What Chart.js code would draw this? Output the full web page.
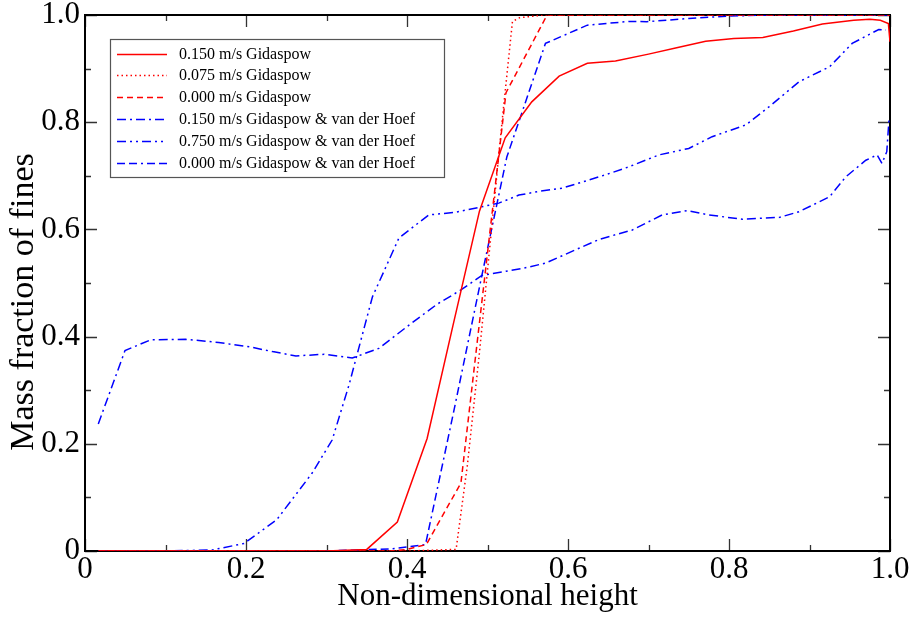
<!DOCTYPE html>
<html>
<head>
<meta charset="utf-8">
<title>Mass fraction of fines</title>
<script src="https://cdn.jsdelivr.net/npm/chart.js@4.4.1/dist/chart.umd.min.js"></script>
<style>
  html, body { margin: 0; padding: 0; background: #fff; }
  #wrap { width: 913px; height: 617px; }
</style>
</head>
<body>
<div id="wrap"><canvas id="fines"></canvas></div>
<script>
// Gidaspow drag, three superficial velocities
const g150X = [0.017, 0.05, 0.10, 0.15, 0.20, 0.25, 0.30, 0.35, 0.388, 0.425, 0.457, 0.49, 0.522, 0.555, 0.589, 0.624, 0.659, 0.70, 0.735, 0.771, 0.806, 0.842, 0.88, 0.916, 0.955, 0.975, 0.988, 0.998, 1.0];
const g150Y = [0, 0, 0, 0, 0, 0, 0, 0.003, 0.054, 0.21, 0.42, 0.634, 0.771, 0.838, 0.886, 0.91, 0.914, 0.927, 0.939, 0.951, 0.956, 0.958, 0.97, 0.983, 0.99, 0.992, 0.99, 0.984, 0.95];

const g075X = [0.017, 0.10, 0.20, 0.30, 0.40, 0.461, 0.475, 0.49, 0.505, 0.518, 0.531, 0.54, 0.57, 0.60, 0.80, 1.0];
const g075Y = [0, 0, 0, 0, 0, 0.003, 0.16, 0.37, 0.60, 0.80, 0.988, 0.995, 1, 1, 1, 1];

const g000X = [0.017, 0.10, 0.20, 0.30, 0.38, 0.40, 0.424, 0.467, 0.523, 0.574, 0.60, 0.80, 1.0];
const g000Y = [0, 0, 0, 0, 0, 0.003, 0.012, 0.127, 0.855, 1, 1, 1, 1];

// Gidaspow & van der Hoef drag
const h150X = [0.0165, 0.0497, 0.0816, 0.125, 0.166, 0.204, 0.233, 0.262, 0.297, 0.332, 0.365, 0.403, 0.437, 0.467, 0.493, 0.523, 0.543, 0.572, 0.593, 0.617, 0.639, 0.68, 0.717, 0.748, 0.775, 0.8165, 0.863, 0.887, 0.925, 0.945, 0.97, 0.984, 0.99, 0.996, 0.999];
const h150Y = [0.237, 0.374, 0.394, 0.395, 0.389, 0.381, 0.372, 0.364, 0.367, 0.36, 0.378, 0.422, 0.46, 0.487, 0.514, 0.522, 0.527, 0.537, 0.551, 0.567, 0.5815, 0.599, 0.627, 0.635, 0.627, 0.619, 0.6225, 0.633, 0.661, 0.698, 0.729, 0.739, 0.723, 0.745, 0.81];

const h750X = [0.017, 0.10, 0.158, 0.1975, 0.238, 0.282, 0.307, 0.328, 0.357, 0.39, 0.427, 0.46, 0.489, 0.514, 0.539, 0.564, 0.593, 0.617, 0.647, 0.676, 0.713, 0.75, 0.779, 0.821, 0.85, 0.887, 0.925, 0.953, 0.986, 0.995];
const h750Y = [0, 0, 0.002, 0.014, 0.058, 0.145, 0.207, 0.31, 0.474, 0.584, 0.627, 0.632, 0.641, 0.649, 0.664, 0.671, 0.677, 0.688, 0.702, 0.717, 0.739, 0.751, 0.773, 0.795, 0.829, 0.8755, 0.9035, 0.947, 0.973, 0.972];

const h000X = [0.017, 0.10, 0.20, 0.30, 0.381, 0.403, 0.423, 0.458, 0.493, 0.524, 0.572, 0.624, 0.676, 0.698, 0.75, 0.798, 0.85, 1.0];
const h000Y = [0, 0, 0, 0, 0.004, 0.008, 0.012, 0.26, 0.514, 0.735, 0.947, 0.981, 0.988, 0.9875, 0.9935, 0.998, 1, 1];

const seriesLabels = [
  "0.150 m/s Gidaspow",
  "0.075 m/s Gidaspow",
  "0.000 m/s Gidaspow",
  "0.150 m/s Gidaspow & van der Hoef",
  "0.750 m/s Gidaspow & van der Hoef",
  "0.000 m/s Gidaspow & van der Hoef"
];
const tickValues = [0, 0.2, 0.4, 0.6, 0.8, 1.0];
const yTitle = "Mass fraction of fines";

const SERIF = "'Liberation Serif', 'Times New Roman', serif";
const RED = "#ff0000";
const BLUE = "#0000ff";

function pts(xs, ys) {
  return xs.map((x, i) => ({ x: x, y: ys[i] }));
}

function line(label, xs, ys, color, dash) {
  return {
    label: label,
    data: pts(xs, ys),
    showLine: true,
    borderColor: color,
    borderWidth: 1.5,
    borderDash: dash,
    pointRadius: 0,
    tension: 0,
    fill: false
  };
}

// frame with inward ticks on all four sides, drawn under the curves
const framePlugin = {
  id: "frame",
  beforeDatasetsDraw(chart) {
    const ctx = chart.ctx;
    const a = chart.chartArea;
    const xs = chart.scales.x, ys = chart.scales.y;
    ctx.save();
    ctx.strokeStyle = "#333";
    ctx.lineWidth = 1.3;
    for (let i = 0; i <= 10; i++) {
      const v = i / 10;
      const len = i % 2 === 0 ? 12 : 6;
      const px = Math.round(xs.getPixelForValue(v)) + 0.5;
      const py = Math.round(ys.getPixelForValue(v)) + 0.5;
      ctx.beginPath();
      ctx.moveTo(px, a.bottom); ctx.lineTo(px, a.bottom - len);
      ctx.moveTo(px, a.top); ctx.lineTo(px, a.top + len);
      ctx.moveTo(a.left, py); ctx.lineTo(a.left + len, py);
      ctx.moveTo(a.right, py); ctx.lineTo(a.right - len, py);
      ctx.stroke();
    }
    ctx.strokeStyle = "#000";
    ctx.lineWidth = 2;
    ctx.strokeRect(a.left, a.top, a.right - a.left, a.bottom - a.top);

    // y axis title, sitting a little below the middle of the axis
    ctx.translate(33, 302);
    ctx.rotate(-Math.PI / 2);
    ctx.font = "34px " + SERIF;
    ctx.fillStyle = "#000";
    ctx.textAlign = "center";
    ctx.textBaseline = "alphabetic";
    ctx.fillText(yTitle, 0, 0);
    ctx.restore();
  }
};

// boxed legend in the upper left
const legendPlugin = {
  id: "boxLegend",
  afterDraw(chart) {
    const ctx = chart.ctx;
    const bx = 110, by = 39, bw = 334, bh = 138;
    ctx.save();
    ctx.fillStyle = "#fff";
    ctx.fillRect(bx, by, bw, bh);
    ctx.strokeStyle = "#555";
    ctx.lineWidth = 1.2;
    ctx.strokeRect(bx + 0.5, by + 0.5, bw, bh);
    ctx.font = "16px " + SERIF;
    ctx.textBaseline = "middle";
    ctx.fillStyle = "#000";
    chart.data.datasets.forEach((ds, i) => {
      const y = Math.round(by + 14.5 + i * 21.8) + 0.5;
      ctx.strokeStyle = ds.borderColor;
      ctx.lineWidth = ds.borderWidth;
      ctx.setLineDash(ds.borderDash);
      ctx.beginPath();
      ctx.moveTo(117, y);
      ctx.lineTo(167, y);
      ctx.stroke();
      ctx.setLineDash([]);
      ctx.fillText(ds.label, 179, y);
    });
    ctx.restore();
  }
};

const tickFmt = v => (v === 0 ? "0" : v.toFixed(1));

new Chart(document.getElementById("fines"), {
  type: "scatter",
  data: {
    datasets: [
      line(seriesLabels[0], g150X, g150Y, RED, []),
      line(seriesLabels[1], g075X, g075Y, RED, [1.5, 3]),
      line(seriesLabels[2], g000X, g000Y, RED, [6, 4]),
      line(seriesLabels[3], h150X, h150Y, BLUE, [9, 4, 2, 4]),
      line(seriesLabels[4], h750X, h750Y, BLUE, [9, 4, 2, 4, 2, 4]),
      line(seriesLabels[5], h000X, h000Y, BLUE, [8, 4, 8, 4, 2, 4])
    ]
  },
  options: {
    responsive: true,
    maintainAspectRatio: false,
    animation: false,
    layout: { padding: { left: 0, top: 15, right: 23, bottom: 0 } },
    plugins: {
      legend: { display: false },
      tooltip: { enabled: false }
    },
    scales: {
      x: {
        type: "linear",
        min: 0,
        max: 1,
        afterBuildTicks: s => { s.ticks = tickValues.map(v => ({ value: v })); },
        afterFit: s => { s.height = 66; s.paddingLeft = 0; s.paddingRight = 0; },
        grid: { display: false, drawTicks: false },
        border: { display: false },
        ticks: {
          padding: 3,
          color: "#000",
          font: { family: SERIF, size: 31, lineHeight: 1 },
          callback: tickFmt,
          maxRotation: 0
        },
        title: {
          display: true,
          text: "Non-dimensional height",
          color: "#000",
          font: { family: SERIF, size: 31 },
          padding: { top: 0, bottom: 2 }
        }
      },
      y: {
        type: "linear",
        min: 0,
        max: 1,
        afterBuildTicks: s => { s.ticks = tickValues.map(v => ({ value: v })); },
        afterFit: s => { s.width = 85; s.paddingTop = 0; s.paddingBottom = 0; },
        grid: { display: false, drawTicks: false },
        border: { display: false },
        ticks: {
          padding: 5,
          color: "#000",
          font: { family: SERIF, size: 31, lineHeight: 1 },
          callback: tickFmt
        },
        title: { display: false }
      }
    }
  },
  plugins: [framePlugin, legendPlugin]
});
</script>
</body>
</html>
